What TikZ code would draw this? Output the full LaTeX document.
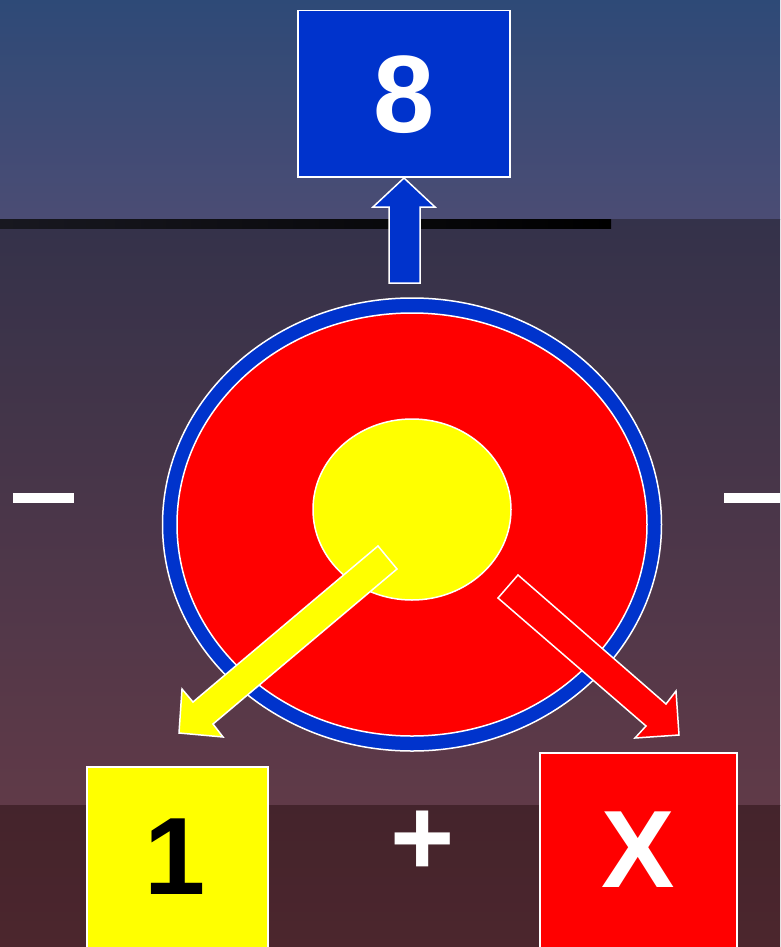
\documentclass[tikz,border=0pt]{standalone}
\usepackage{fontspec}
\setmainfont{Liberation Sans}
\definecolor{pblue}{RGB}{0,51,204}
\definecolor{pred}{RGB}{255,0,0}
\definecolor{pyel}{RGB}{255,255,0}
\definecolor{bgA}{RGB}{46,74,119}
\definecolor{bgB}{RGB}{75,76,116}
\definecolor{bgC}{RGB}{52,50,74}
\definecolor{bgD}{RGB}{96,58,72}
\definecolor{bgE}{RGB}{68,36,44}
\definecolor{bgF}{RGB}{76,38,45}
\definecolor{barL}{RGB}{24,24,32}
\tikzset{
  outl/.style={draw=white, line width=1.5pt, line join=miter},
  boxnode/.style={outl, inner sep=0pt, anchor=north},
  bigtxt/.style={font=\bfseries\fontsize{110}{110}\selectfont, inner sep=0pt}
}
\begin{document}
\begin{tikzpicture}[x=1pt,y=-1pt]
\useasboundingbox (0,0) rectangle (780,947);
% background bands
\shade[top color=bgA, bottom color=bgB] (0,0) rectangle (780,219);
\shade[top color=bgC, bottom color=bgD] (0,219) rectangle (780,805);
\shade[top color=bgE, bottom color=bgF] (0,805) rectangle (780,947);
\shade[left color=barL, right color=black] (0,219) rectangle (611,228);
% side dashes
\fill[white] (13,493) rectangle (74,503);
\fill[white] (724,493) rectangle (780,503);
% top box
\node[boxnode, fill=pblue, minimum width=212pt, minimum height=166pt] (b8) at (404,10) {};
\node[bigtxt, text=white] (t8) at (404,95) {8};
% up arrow
\draw[outl, fill=pblue] (389,283) -- (389,207) -- (373,207) -- (404,178) -- (435,207) -- (420,207) -- (420,283) -- cycle;
% circles
\draw[outl, fill=pblue] (412,524.5) ellipse [x radius=249.5, y radius=226.5];
\draw[outl, fill=pred] (412,524.5) ellipse [x radius=235, y radius=211.5];
\draw[outl, fill=pyel] (412,509.5) ellipse [x radius=99, y radius=90.5];
% yellow arrow
\draw[outl, fill=pyel] (378,546) -- (193,702) -- (182,689) -- (179,733) -- (223,737) -- (213,724) -- (397,569) -- cycle;
% red arrow
\draw[outl, fill=pred] (518,575) -- (666,704) -- (676,691) -- (679,735) -- (635,738) -- (646,726) -- (498,598) -- cycle;
% bottom boxes
\node[boxnode, fill=pyel, minimum width=181pt, minimum height=200pt] (b1) at (177.5,766) {};
\node[bigtxt, text=black] (t1) at (175,857) {1};
\node[boxnode, fill=pred, minimum width=197pt, minimum height=210pt] (bx) at (638.5,752) {};
\node[bigtxt, text=white] (tx) at (638,850) {X};
\node[bigtxt, text=white] (tp) at (423,843) {+};
\end{tikzpicture}
\end{document}
